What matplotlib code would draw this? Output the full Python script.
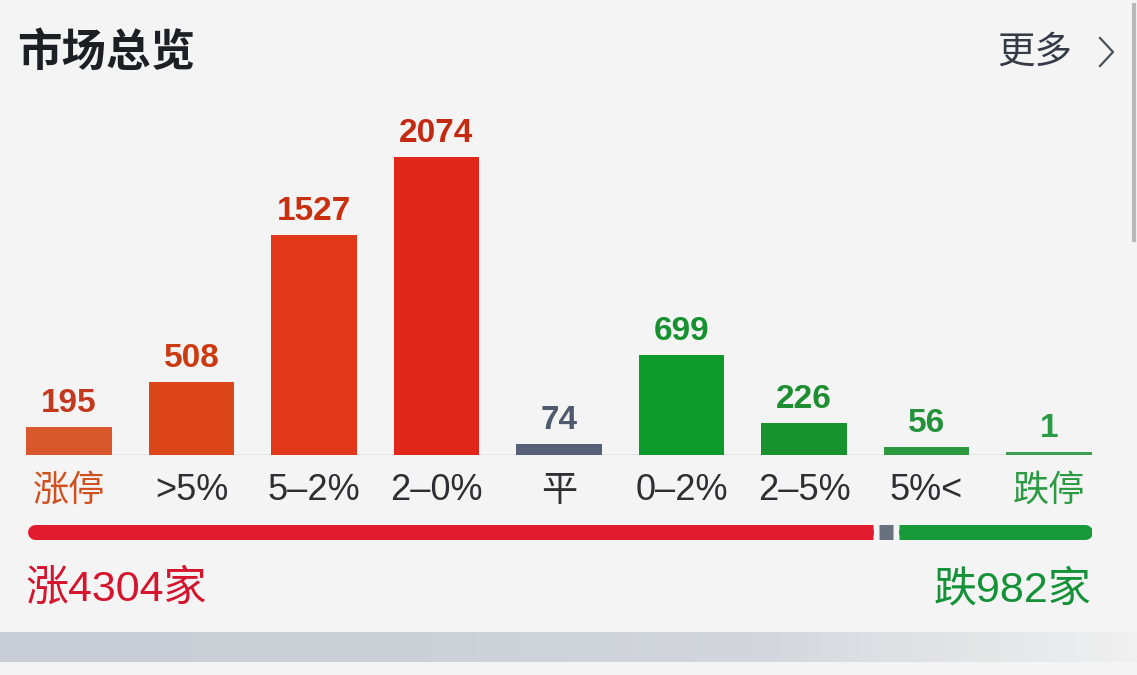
import matplotlib
matplotlib.use("Agg")
import matplotlib.pyplot as plt
from matplotlib.colors import LinearSegmentedColormap
import numpy as np

plt.rcParams['font.family'] = ['Noto Sans CJK SC', 'DejaVu Sans']
LAT = ['Liberation Sans', 'Noto Sans CJK SC', 'DejaVu Sans']

# ---- data ----
categories = ["涨停", ">5%", "5–2%", "2–0%", "平", "0–2%", "2–5%", "5%<", "跌停"]
counts = [195, 508, 1527, 2074, 74, 699, 226, 56, 1]
bar_colors = ["#D9582B", "#DC4618", "#E2381A", "#E0271A", "#566179",
              "#0E9A2A", "#17922F", "#2C983F", "#3DA050"]
value_colors = ["#C2391F", "#CC3A12", "#C9300F", "#C42A10", "#4F5A6E",
                "#17902F", "#1F8E33", "#23923A", "#2A9A43"]
label_colors = ["#D0501F", "#2E2E33", "#2E2E33", "#2E2E33", "#2E2E33",
                "#2E2E33", "#2E2E33", "#2E2E33", "#2A9A43"]
up_total, flat_total, down_total = 4304, 74, 982
title = "市场总览"
more_text = "更多"
up_text = "涨4304家"
down_text = "跌982家"

W, H = 1137, 675
fig = plt.figure(figsize=(W / 100, H / 100), dpi=100)
fig.patch.set_facecolor("#F4F4F4")

# ---- main bar axes ----
left_px, right_px = 7.75, 1110.25
base_px, top_px = 455, 110
ax = fig.add_axes([left_px / W, 1 - base_px / H, (right_px - left_px) / W, (base_px - top_px) / H])
ax.set_facecolor("none")
ax.set_xlim(-0.5, len(categories) - 0.5)
ax.set_ylim(0, 2400)
ax.axis("off")

min_h = 18  # minimal visible height for tiny bars
x = np.arange(len(categories))
heights = [max(c, min_h) for c in counts]
ax.bar(x, heights, width=0.694, color=bar_colors, zorder=3)
ax.plot([-0.345, len(categories) - 1 + 0.345], [0, 0], color="#E2E2E2", lw=1.2, zorder=2)

for i, (c, h) in enumerate(zip(counts, heights)):
    ax.annotate(str(c), xy=(i, h), xytext=(0, 8), textcoords="offset pixels",
                ha="center", va="bottom", fontsize=24, fontweight="bold",
                color=value_colors[i], family=["Liberation Sans", "DejaVu Sans"])
    ax.annotate(categories[i], xy=(i, 0), xytext=(0, -36), textcoords="offset pixels",
                ha="center", va="center", fontsize=26, color=label_colors[i], family=LAT)

# ---- title and "more" ----
fig.text(17 / W, 1 - 53 / H, title, fontsize=32, fontweight="bold", color="#1E1F24",
         ha="left", va="center")
fig.text(1072 / W, 1 - 52 / H, more_text, fontsize=27, color="#353B46",
         ha="right", va="center")
fig.lines.append(plt.Line2D([1100 / W, 1113 / W, 1100 / W],
                            [1 - 38 / H, 1 - 52 / H, 1 - 66 / H],
                            transform=fig.transFigure, color="#4A4F58", lw=1.6))

# ---- summary bar ----
sb_left, sb_right = 27, 1092
sb_y, sb_h = 532, 15
axb = fig.add_axes([sb_left / W, 1 - (sb_y + 10) / H, (sb_right - sb_left) / W, 20 / H])
axb.axis("off")
gap_px = 5.5
total = up_total + flat_total + down_total
usable_px = (sb_right - sb_left) - 2 * gap_px
gap = gap_px / usable_px * total
axb.set_xlim(0, total + 2 * gap)
axb.set_ylim(-1, 1)
lw_pt = sb_h * 72 / 100
r = (sb_h / 2) / usable_px * total  # half thickness in data units
red_c, flat_c, green_c = "#E31B2E", "#69707E", "#179A3A"
s_red, s_flat, s_green = 0, up_total + gap, up_total + flat_total + 2 * gap
axb.plot([s_red + r, s_red + up_total - r], [0, 0], color=red_c, lw=lw_pt, solid_capstyle="round")
axb.plot([s_red + up_total / 2, s_red + up_total], [0, 0], color=red_c, lw=lw_pt, solid_capstyle="butt")
axb.plot([s_flat, s_flat + flat_total], [0, 0], color=flat_c, lw=lw_pt, solid_capstyle="butt")
axb.plot([s_green + r, s_green + down_total - r], [0, 0], color=green_c, lw=lw_pt, solid_capstyle="round")
axb.plot([s_green, s_green + down_total / 2], [0, 0], color=green_c, lw=lw_pt, solid_capstyle="butt")

fig.text(26 / W, 1 - 590 / H, up_text, fontsize=31, color="#D5142E", ha="left", va="center", family=LAT)
fig.text(1091 / W, 1 - 590 / H, down_text, fontsize=31, color="#159238", ha="right", va="center", family=LAT)

# ---- bottom grey band and scrollbar ----
band = fig.add_axes([0, 1 - 662 / H, 1, 30 / H])
band.axis("off")
grad = np.linspace(0, 1, 256)[None, :]
cmap = LinearSegmentedColormap.from_list("g", ["#C9CED6", "#CBD0D7", "#D3D7DD", "#F0F0F0"])
band.imshow(grad, aspect="auto", cmap=cmap, extent=[0, 1, 0, 1])
fig.lines.append(plt.Line2D([1134 / W, 1134 / W], [1 - 5 / H, 1 - 240 / H],
                            transform=fig.transFigure, color="#B8B8B8", lw=3))

fig.savefig("out.png", dpi=100, facecolor=fig.get_facecolor())
